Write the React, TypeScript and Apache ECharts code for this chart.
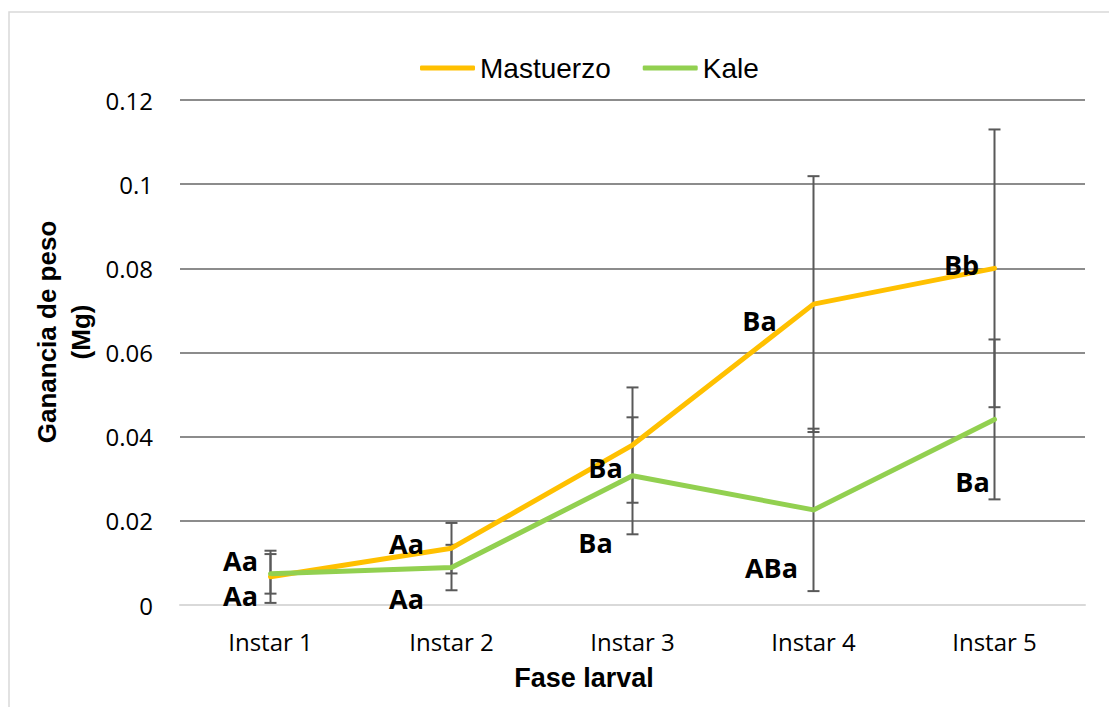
import React, { useEffect, useRef } from "react";
import * as echarts from "echarts";

const categories = ["Instar 1", "Instar 2", "Instar 3", "Instar 4", "Instar 5"];
const mastuerzoValues = [0.0067, 0.0135, 0.038, 0.0715, 0.08];
const mastuerzoErrors = [0.0062, 0.006, 0.0137, 0.0304, 0.033];
const kaleValues = [0.0074, 0.0089, 0.0307, 0.0226, 0.0441];
const kaleErrors = [0.0047, 0.0054, 0.0139, 0.0193, 0.019];
const mastuerzoLetters = ["Aa", "Aa", "Ba", "Ba", "Bb"];
const kaleLetters = ["Aa", "Aa", "Ba", "ABa", "Ba"];
const yTicks = [0, 0.02, 0.04, 0.06, 0.08, 0.1, 0.12];

// label placement relative to each point (layout only)
const mastuerzoLabelOffsets = [[-30, -16], [-45, -5], [-27, 22], [-54, 16], [-33, -4]];
const kaleLabelOffsets = [[-30, 22], [-45, 31], [-37, 67], [-42, 58], [-22, 62]];

const ORANGE = "#FFC000";
const GREEN = "#92D050";
const ERR = "#595959";

function errorSeries(values: number[], errors: number[], z: number) {
  return {
    type: "custom",
    z,
    silent: true,
    data: values.map((v, i) => [i, v - errors[i], v + errors[i]]),
    renderItem: (params: any, api: any) => {
      const lo = api.coord([api.value(0), api.value(1)]);
      const hi = api.coord([api.value(0), api.value(2)]);
      const hw = 6;
      const style = { stroke: ERR, lineWidth: 2 };
      return {
        type: "group",
        children: [
          { type: "line", shape: { x1: lo[0], y1: lo[1], x2: hi[0], y2: hi[1] }, style },
          { type: "line", shape: { x1: lo[0] - hw, y1: lo[1], x2: lo[0] + hw, y2: lo[1] }, style },
          { type: "line", shape: { x1: hi[0] - hw, y1: hi[1], x2: hi[0] + hw, y2: hi[1] }, style },
        ],
      };
    },
  };
}

function lineSeries(name: string, color: string, values: number[], letters: string[], offsets: number[][]) {
  return {
    name,
    type: "line",
    z: 5,
    smooth: false,
    symbol: "circle",
    symbolSize: 2,
    showSymbol: true,
    itemStyle: { color },
    lineStyle: { color, width: 5, cap: "round", join: "round" },
    data: values.map((v, i) => ({
      value: v,
      label: {
        show: true,
        position: "inside",
        formatter: letters[i],
        offset: offsets[i],
        align: "center",
        verticalAlign: "middle",
        color: "#000",
        fontFamily: "Open Sans",
        fontWeight: "bold",
        fontSize: 27,
        lineHeight: 24,
      },
    })),
  };
}

export default function App() {
  const ref = useRef<HTMLDivElement>(null);
  useEffect(() => {
    document.body.style.margin = "0";
    const chart = echarts.init(ref.current!, undefined, { renderer: "svg" });
    chart.setOption({
      animation: false,
      backgroundColor: "#fff",
      grid: { left: 180, right: 24, top: 100, bottom: 102 },
      legend: {
        data: ["Mastuerzo", "Kale"],
        left: 415,
        top: 49,
        icon: "roundRect",
        itemWidth: 55,
        itemHeight: 5,
        itemGap: 32,
        textStyle: { fontFamily: "Liberation Sans", fontSize: 28, color: "#000" },
      },
      xAxis: {
        type: "category",
        data: categories,
        boundaryGap: true,
        axisTick: { show: false },
        axisLine: { lineStyle: { color: "#d9d9d9", width: 2 } },
        axisLabel: { fontFamily: "Open Sans", fontSize: 24, color: "#000", margin: 24 },
      },
      yAxis: {
        type: "value",
        min: 0,
        max: 0.12,
        interval: 0.02,
        axisLine: { show: false },
        axisTick: { show: false },
        splitLine: { lineStyle: { color: "#8c8c8c", width: 2 } },
        axisLabel: {
          fontFamily: "Open Sans",
          fontSize: 24,
          color: "#000",
          margin: 27,
          formatter: (v: number) => {
            const t = yTicks.find((x) => Math.abs(x - v) < 1e-9);
            return String(Number((t ?? v).toFixed(2)));
          },
        },
      },
      graphic: [
        {
          type: "rect",
          shape: { x: 9, y: 12, width: 1120, height: 720 },
          style: { fill: "none", stroke: "#d9d9d9", lineWidth: 1.5 },
          silent: true,
          z: -1,
        },
        {
          type: "text",
          x: 64,
          y: 332,
          rotation: Math.PI / 2,
          style: {
            text: "Ganancia de peso\n(Mg)",
            align: "center",
            verticalAlign: "middle",
            fontFamily: "Liberation Sans",
            fontWeight: "bold",
            fontSize: 26,
            lineHeight: 34,
            fill: "#000",
          },
        },
        {
          type: "text",
          x: 584,
          y: 678,
          style: {
            text: "Fase larval",
            align: "center",
            verticalAlign: "middle",
            fontFamily: "Liberation Sans",
            fontWeight: "bold",
            fontSize: 27,
            fill: "#000",
          },
        },
      ],
      series: [
        errorSeries(mastuerzoValues, mastuerzoErrors, 2),
        errorSeries(kaleValues, kaleErrors, 2),
        lineSeries("Mastuerzo", ORANGE, mastuerzoValues, mastuerzoLetters, mastuerzoLabelOffsets),
        lineSeries("Kale", GREEN, kaleValues, kaleLetters, kaleLabelOffsets),
      ],
    });
    return () => chart.dispose();
  }, []);
  return <div ref={ref} style={{ width: 1109, height: 707 }} />;
}
